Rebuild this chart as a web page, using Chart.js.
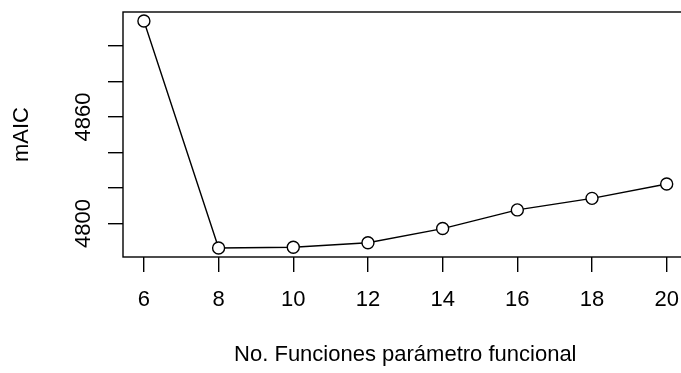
<!DOCTYPE html>
<html>
<head>
<meta charset="utf-8">
<script src="https://cdn.jsdelivr.net/npm/chart.js@4"></script>
<style>
    html, body { margin: 0; padding: 0; background: #fff; overflow: hidden; }
    .clip { width: 681px; height: 373px; overflow: hidden; }
    canvas { display: block; }
</style>
</head>
<body>
<div class="clip"><canvas id="aicChart" width="695" height="373"></canvas></div>
<script>
const numFunctions = [6, 8, 10, 12, 14, 16, 18, 20];
const maicValues = [4914.0, 4786.3, 4786.7, 4789.2, 4797.2, 4807.7, 4814.2, 4822.3];
const xTicks = [6, 8, 10, 12, 14, 16, 18, 20];
const yTicks = [4800, 4820, 4840, 4860, 4880, 4900];
const yLabels = [4800, 4860];

const FONT = '"Liberation Sans", Arial, sans-serif';
const LW = 1.4;

// R style axis extension (4% each side)
const xMin = 6 - 0.04 * 14, xMax = 20 + 0.04 * 14;
const yMin = 4781.2, yMax = 4919.1;

const rStyle = {
    id: 'rStyle',
    afterDraw(chart) {
        const ctx = chart.ctx;
        const a = chart.chartArea;
        const y = chart.scales.y;
        ctx.save();
        ctx.strokeStyle = '#000';
        ctx.lineWidth = LW;
        ctx.strokeRect(a.left, a.top, a.right - a.left, a.bottom - a.top);

        ctx.fillStyle = '#000';
        ctx.font = '22px ' + FONT;
        ctx.textAlign = 'center';
        ctx.textBaseline = 'middle';
        yLabels.forEach(v => {
            ctx.save();
            ctx.translate(84, y.getPixelForValue(v));
            ctx.rotate(-Math.PI / 2);
            ctx.fillText(String(v), 0, 0);
            ctx.restore();
        });

        ctx.save();
        ctx.translate(22, (a.top + a.bottom) / 2);
        ctx.rotate(-Math.PI / 2);
        ctx.fillText('mAIC', 0, 0);
        ctx.restore();

        ctx.fillText('No. Funciones parámetro funcional', (a.left + a.right) / 2, 355);
        ctx.restore();
    }
};

const ctx = document.getElementById('aicChart').getContext('2d');
new Chart(ctx, {
    type: 'line',
    data: {
        datasets: [{
            data: numFunctions.map((n, i) => ({ x: n, y: maicValues[i] })),
            borderColor: '#000',
            borderWidth: LW,
            tension: 0,
            fill: false,
            pointStyle: 'circle',
            pointRadius: 6,
            pointBorderWidth: LW,
            pointBorderColor: '#000',
            pointBackgroundColor: '#fff'
        }]
    },
    options: {
        responsive: false,
        animation: false,
        layout: { padding: { top: 12, right: 0, left: 0, bottom: 0 } },
        plugins: {
            legend: { display: false },
            tooltip: { enabled: false }
        },
        scales: {
            x: {
                type: 'linear',
                min: xMin,
                max: xMax,
                afterBuildTicks: s => { s.ticks = xTicks.map(v => ({ value: v })); },
                afterFit: s => { s.height = 116; },
                border: { display: false },
                grid: { drawOnChartArea: false, tickLength: 15, color: '#000', lineWidth: LW },
                ticks: {
                    color: '#000',
                    font: { family: FONT, size: 22 },
                    padding: 15,
                    maxRotation: 0,
                    autoSkip: false
                }
            },
            y: {
                type: 'linear',
                min: yMin,
                max: yMax,
                afterBuildTicks: s => { s.ticks = yTicks.map(v => ({ value: v })); },
                afterFit: s => { s.width = 123; },
                border: { display: false },
                grid: { drawOnChartArea: false, tickLength: 15, color: '#000', lineWidth: LW },
                ticks: { display: false }
            }
        }
    },
    plugins: [rStyle]
});
</script>
</body>
</html>
